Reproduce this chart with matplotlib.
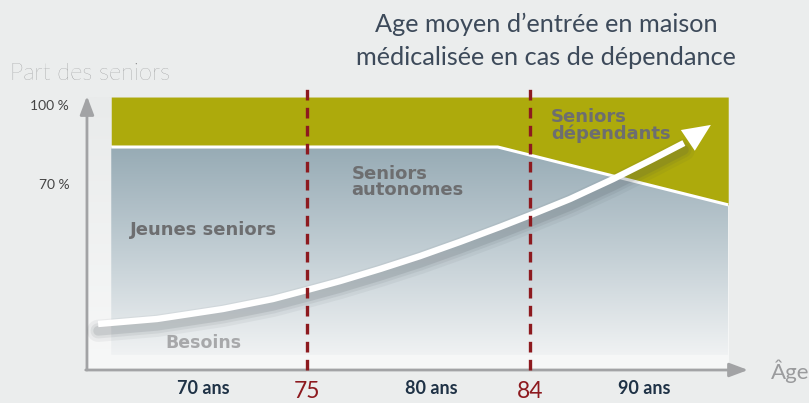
import numpy as np
import matplotlib.pyplot as plt
from matplotlib.colors import LinearSegmentedColormap

# share of seniors by age (%), breakpoints of the two boundaries
age_edges = [67.1, 82.7, 92.0]
autonomous_top = [81, 81, 59]
dependent_top = [100, 100, 100]

# "Besoins" curve
needs_age = [66.57, 68.95, 71.61, 73.63, 75.0, 76.33, 77.95, 79.56, 81.17,
             82.79, 84.12, 85.61, 87.35, 88.96, 90.21]
needs_share = [13.7, 15.6, 19.4, 23.2, 26.6, 30.0, 34.6, 39.5, 44.9,
               50.6, 55.5, 61.2, 68.8, 76.4, 82.5]
needs_tip = (91.3, 89.4)

entry_ages = [75, 84]
age_labels = ['70 ans', '80 ans', '90 ans']
age_label_pos = [70.8, 80, 88.6]
share_ticks = [100, 70]
share_labels = ['100 %', '70 %']

bg = '#ebeded'
yellow = '#adaa0c'
red = '#8d1a1f'
label_grey = '#6d6e70'

fig = plt.figure(figsize=(8.09, 4.03), dpi=100, facecolor=bg)
ax = fig.add_axes([0, 0, 1, 1])
ax.set_xlim(62.61, 95.26)
ax.set_ylim(-16.35, 136.9)
ax.axis('off')

x_axis_age = 66.12
y_axis_share = -3.8

# light panel behind the chart
panel_cmap = LinearSegmentedColormap.from_list('panel', ['#f7f8f8', '#e9ebeb'])
ax.imshow(np.linspace(0, 1, 256).reshape(-1, 1), cmap=panel_cmap, origin='lower',
          extent=[x_axis_age, age_edges[-1], y_axis_share, 100], aspect='auto', zorder=0)

# blue gradient area (jeunes seniors + autonomes)
blue_cmap = LinearSegmentedColormap.from_list(
    'blue', [(0, '#f0f2f3'), (0.5, '#c2ced4'), (1, '#97abb5')])
blue = ax.fill_between(age_edges, 2, autonomous_top, color='none', zorder=1)
img = ax.imshow(np.linspace(0, 1, 256).reshape(-1, 1), cmap=blue_cmap, origin='lower',
                extent=[age_edges[0], age_edges[-1], 2, max(autonomous_top)],
                aspect='auto', zorder=1)
img.set_clip_path(blue.get_paths()[0], transform=ax.transData)

# dependent seniors
ax.fill_between(age_edges, autonomous_top, dependent_top, color=yellow, lw=0, zorder=2)
ax.plot(age_edges, autonomous_top, color='white', lw=2.2, zorder=3,
        solid_capstyle='butt')

# axes arrows
arrow_kw = dict(arrowstyle='-|>,head_length=0.8,head_width=0.3', color='#a2a3a5',
                lw=2, mutation_scale=14, shrinkA=0, shrinkB=0)
ax.annotate('', xy=(x_axis_age, 100.4), xytext=(x_axis_age, y_axis_share),
            arrowprops=arrow_kw, zorder=4)
ax.annotate('', xy=(92.8, y_axis_share), xytext=(x_axis_age - 0.05, y_axis_share),
            arrowprops=arrow_kw, zorder=4)

# labels inside the chart
bold = dict(family='DejaVu Sans', weight='bold', zorder=5)
ax.text(67.86, 49.4, 'Jeunes seniors', color=label_grey, va='center',
        fontsize=13, **bold)
ax.text(76.8, 67.6, 'Seniors\nautonomes', color=label_grey, va='center',
        linespacing=0.85, fontsize=13, **bold)
ax.text(84.85, 89.2, 'Seniors\ndépendants', color=label_grey, va='center',
        linespacing=0.85, fontsize=13, **bold)
ax.text(69.27, 6.5, 'Besoins', color='#a7a8aa', va='center', fontsize=12.5, **bold)

# needs curve with soft shadow
needs_share_arr = np.array(needs_share)
for lw, a in [(16, 0.06), (11, 0.08), (7, 0.12)]:
    ax.plot(needs_age, needs_share_arr - 2.6, color='#3f474d', lw=lw, alpha=a,
            solid_capstyle='round', solid_joinstyle='round', zorder=6)
ax.plot(needs_age, needs_share, color='white', lw=4.6, zorder=6,
        solid_capstyle='butt', solid_joinstyle='round')
ax.annotate('', xy=needs_tip, xytext=(needs_age[-1], needs_share[-1]),
            arrowprops=dict(arrowstyle='-|>,head_length=1.0,head_width=0.45',
                            color='white', lw=0, mutation_scale=20,
                            shrinkA=0, shrinkB=0), zorder=6)

# entry age markers
for a in entry_ages:
    ax.plot([a, a], [y_axis_share, 103.4], color=red, lw=2.4,
            linestyle=(0, (3.2, 2.2)), zorder=7)

# share tick labels
for v, s in zip(share_ticks, share_labels):
    ax.text(65.4, v - 3.4, s, ha='right', va='center', fontsize=10,
            color='#444444', family='Lato')

# age labels
for p, s in zip(age_label_pos, age_labels):
    ax.text(p, -10.8, s, ha='center', va='center', fontsize=13,
            color='#1f3246', family='Lato', weight='bold')
for a in entry_ages:
    ax.text(a, -12.0, str(a), ha='center', va='center', fontsize=16.5,
            color=red, family='Lato')

# titles
fig.text(10 / 809, 1 - 73 / 403, 'Part des seniors', ha='left', va='center',
         fontsize=17, color='#7f8082', family='Lato', weight='light')
fig.text(771 / 809, 1 - 371 / 403, 'Âge', ha='left', va='center',
         fontsize=16, color='#9a9b9d', family='Lato')
fig.text(546 / 809, 1 - 41 / 403,
         'Age moyen d\u2019entrée en maison\nmédicalisée en cas de dépendance',
         ha='center', va='center', fontsize=18.2, color='#3d4a5a',
         family='Lato', linespacing=1.5)

fig.savefig('out.png', dpi=100, facecolor=bg)
